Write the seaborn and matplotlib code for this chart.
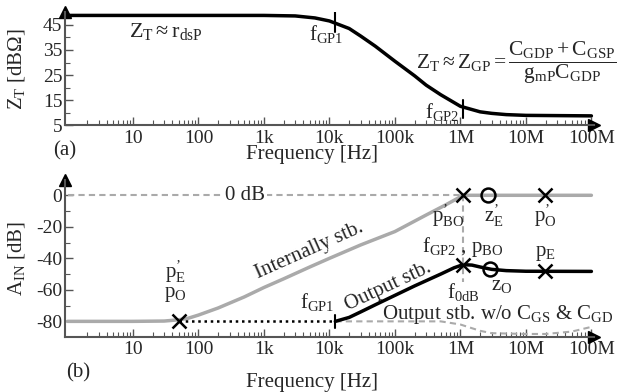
import numpy as np
import matplotlib
matplotlib.use("Agg")
import matplotlib.pyplot as plt
import seaborn as sns

# ---- data ----
# (a) transimpedance Z_T [dBOhm]
zt_freq = [1, 10, 100, 1e3, 3e3, 6e3, 1e4, 2e4, 3e4, 5e4, 1e5, 2e5, 3e5, 5e5, 1e6, 2e6, 3e6, 5e6, 1e7, 1e8]
zt_db = [48.7, 48.7, 48.7, 48.7, 48.5, 47.7, 46.5, 43.5, 40.5, 36.5, 30.5, 24.7, 21.0, 17.2, 12.6, 10.4, 9.8, 9.3, 9.0, 8.8]
f_gp1 = 1.23e4
f_gp2 = 1.1e6

# (b) noise gain A_IN [dB]
int_freq = [1, 10, 30, 50, 70, 100, 200, 500, 1e3, 2e3, 5e3, 1e4, 3e4, 1e5, 3e5, 6e5, 1.1e6, 2e6, 1e7, 1e8]
int_db = [-80, -80, -79.8, -79, -78, -76, -71.5, -64.5, -58.5, -53, -45.5, -40, -31.5, -23, -12.5, -6, 0, 0, 0, 0]
out_freq = [1.23e4, 2e4, 3e4, 5e4, 1e5, 2e5, 5e5, 8e5, 1.1e6, 1.5e6, 2e6, 3e6, 5e6, 1e7, 1e8]
out_db = [-80, -77.5, -74, -69.5, -63.5, -57.5, -50, -46, -44, -44.3, -45.5, -47, -47.8, -48.2, -48.3]
flat_freq = [50, 1.23e4]
flat_db = [-80, -80]
woc_freq = [1.23e4, 1e5, 5e5, 1e6, 2e6, 3e6, 1e7, 2e7, 5e7, 1e8]
woc_db = [-80, -80, -80, -82, -86, -87.5, -88, -88, -86.5, -83.5]
zero_freq = [1, 1.1e6]
zero_db = [0, 0]

x_ticks = [10, 100, 1e3, 1e4, 1e5, 1e6, 1e7, 1e8]
x_labels = ["10", "100", "1k", "10k", "100k", "1M", "10M", "100M"]

sns.set_style("ticks")
plt.rcParams['font.family'] = ['Liberation Serif', 'DejaVu Serif']
plt.rcParams['mathtext.fontset'] = 'custom'
plt.rcParams['mathtext.rm'] = 'Liberation Serif'
plt.rcParams['mathtext.it'] = 'Liberation Serif:italic'
plt.rcParams['axes.unicode_minus'] = False
plt.rcParams['font.size'] = 15

GRAY = "#aaaaaa"
FS = 15
fig = plt.figure(figsize=(6.21, 3.92), dpi=100)
ax1 = fig.add_axes([0.1047, 0.680, 0.852, 0.289])
ax2 = fig.add_axes([0.1047, 0.140, 0.852, 0.402])


def style_axis(ax):
    ax.set_xscale("log")
    ax.set_xlim(0.916, 1.1e8)
    ax.set_xticks(x_ticks)
    ax.set_xticklabels(x_labels)
    ax.xaxis.set_minor_locator(matplotlib.ticker.LogLocator(base=10, subs=np.arange(2, 10)))
    ax.xaxis.set_minor_formatter(matplotlib.ticker.NullFormatter())
    for s in ["top", "right"]:
        ax.spines[s].set_visible(False)
    for s in ["left", "bottom"]:
        ax.spines[s].set_color("#555555")
        ax.spines[s].set_linewidth(1.5)
    ax.tick_params(axis="both", which="both", direction="in", color="#555555", labelsize=14, pad=2)
    ax.tick_params(axis="x", pad=3)
    ax.tick_params(which="major", length=6, width=1)
    ax.tick_params(which="minor", length=3.5, width=0.8)
    ax.plot(1, 0, marker=">", color="black", ms=9, transform=ax.transAxes, clip_on=False)
    ax.plot(0, 1, marker="^", color="black", ms=9, transform=ax.transAxes, clip_on=False)


# ---- (a) ----
style_axis(ax1)
ax1.set_ylim(5, 50)
ax1.set_yticks([5, 15, 25, 35, 45])
ax1.set_yticks([10, 20, 30, 40], minor=True)
sns.lineplot(x=zt_freq, y=zt_db, ax=ax1, color="black", lw=2.5)
ax1.plot([f_gp1, f_gp1], [42, 50], color="black", lw=1.5)
ax1.plot([f_gp2, f_gp2], [8, 15], color="black", lw=1.5)
ax1.text(32, 42.2, r"$\mathrm{Z_T \approx r_{dsP}}$", ha="center", va="center", fontsize=16)
ax1.text(1.6e4, 41.5, r"$\mathrm{f_{GP1}}$", ha="right", va="center", fontsize=FS)
ax1.text(0.95e6, 10.5, r"$\mathrm{f_{GP2}}$", ha="right", va="center", fontsize=FS)
ax1.text(2.4e8, 30, r"$\mathrm{Z_T \approx Z_{GP} = \dfrac{C_{GDP} + C_{GSP}}{g_{mP}C_{GDP}}}$",
         ha="right", va="center", fontsize=15.5)
ax1.set_ylabel(r"$\mathrm{Z_T}$ [dBΩ]", fontsize=FS)
ax1.yaxis.set_label_coords(-0.072, 0.5)
ax1.set_xlabel("")

# ---- (b) ----
style_axis(ax2)
ax2.set_ylim(-90, 10)
ax2.set_yticks([0, -20, -40, -60, -80])
ax2.set_yticks([-10, -30, -50, -70], minor=True)
sns.lineplot(x=zero_freq, y=zero_db, ax=ax2, color=GRAY, lw=1.5, linestyle=(0, (3, 2)))
sns.lineplot(x=woc_freq, y=woc_db, ax=ax2, color=GRAY, lw=1.5, linestyle=(0, (3, 2)))
sns.lineplot(x=int_freq, y=int_db, ax=ax2, color=GRAY, lw=2.5)
sns.lineplot(x=flat_freq, y=flat_db, ax=ax2, color="black", lw=1.8, linestyle=(0, (1, 1.5)))
sns.lineplot(x=out_freq, y=out_db, ax=ax2, color="black", lw=2.5)
ax2.plot([f_gp2, f_gp2], [0, -55], color=GRAY, lw=1.5, linestyle=(0, (3, 2)))
ax2.plot([f_gp1, f_gp1], [-76, -84], color="black", lw=1.5)

# poles (x) and zeros (o)
ax2.plot([50, 1.1e6, 1.93e7, 1.1e6, 1.93e7], [-80, 0, 0, -44, -48], ls="none", marker="x",
         color="black", ms=10, mew=1.8)
ax2.plot([2.6e6, 2.8e6], [0, -47], ls="none", marker="o", mfc="none", mec="black", ms=10, mew=1.8)

ax2.text(515, 0, "0 dB", ha="center", va="center", fontsize=FS,
         bbox=dict(facecolor="white", edgecolor="none", pad=1))
ax2.text(44, -48.5, "$\\mathrm{p_{E}^{\u2019}}$", ha="center", va="center", fontsize=FS)
ax2.text(44, -63, r"$\mathrm{p_{O}}$", ha="center", va="center", fontsize=FS)
ax2.text(6.5e5, -13, "$\\mathrm{p_{BO}^{\u2019}}$", ha="center", va="center", fontsize=FS)
ax2.text(3.2e6, -13, "$\\mathrm{z_{E}^{\u2019}}$", ha="center", va="center", fontsize=FS)
ax2.text(2.0e7, -13, "$\\mathrm{p_{O}^{\u2019}}$", ha="center", va="center", fontsize=FS)
ax2.text(1.1e6, -33, r"$\mathrm{f_{GP2}}$ , $\mathrm{p_{BO}}$", ha="center", va="center", fontsize=FS)
ax2.text(2.0e7, -37, r"$\mathrm{p_{E}}$", ha="center", va="center", fontsize=FS)
ax2.text(4.2e6, -57, r"$\mathrm{z_{O}}$", ha="center", va="center", fontsize=FS)
ax2.text(1.1e6, -61.5, r"$\mathrm{f_{0dB}}$", ha="center", va="center", fontsize=FS)
ax2.text(1.2e4, -68, r"$\mathrm{f_{GP1}}$", ha="right", va="center", fontsize=FS)
ax2.text(3.7e6, -75.5, r"Output stb. w/o $\mathrm{C_{GS}}$ & $\mathrm{C_{GD}}$", ha="center",
         va="center", fontsize=FS)
ax2.text(5e3, -35, "Internally stb.", ha="center", va="center", fontsize=FS, rotation=24)
ax2.text(8e4, -58, "Output stb.", ha="center", va="center", fontsize=FS, rotation=25)
ax2.set_ylabel(r"$\mathrm{A_{IN}}$ [dB]", fontsize=FS)
ax2.yaxis.set_label_coords(-0.072, 0.5)
ax2.set_xlabel("")

fig.text(312 / 621, 1 - 155 / 392, "Frequency [Hz]", ha="center", va="center", fontsize=FS)
fig.text(312 / 621, 1 - 382 / 392, "Frequency [Hz]", ha="center", va="center", fontsize=FS)
fig.text(65 / 621, 1 - 151 / 392, "(a)", ha="center", va="center", fontsize=FS)
fig.text(78 / 621, 1 - 373 / 392, "(b)", ha="center", va="center", fontsize=FS)

fig.savefig("out.png", dpi=100)
